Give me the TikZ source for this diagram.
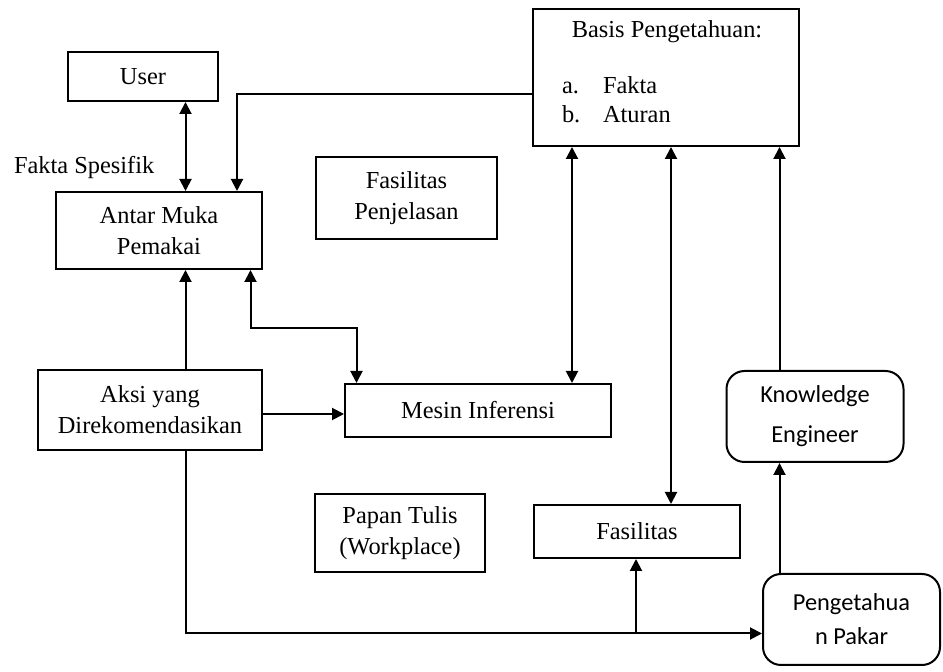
\documentclass[tikz,border=0pt]{standalone}
\usepackage{fontspec}
\setmainfont{Liberation Serif}
\newfontfamily\carlito{Carlito}
\usetikzlibrary{arrows.meta}
\begin{document}
\begin{tikzpicture}[x=0.5pt,y=-0.5pt,
  line width=1pt,
  box/.style={draw,line width=1pt,inner sep=0pt,align=center,
    font=\fontsize{12.2}{15.5}\selectfont},
  rbox/.style={draw,line width=1pt,rounded corners=9pt,inner sep=0pt,align=center,
    font=\carlito\fontsize{12.2}{15}\selectfont},
  txt/.style={inner sep=0pt,font=\fontsize{12.2}{15.5}\selectfont},
  arr/.style={-{Triangle[width=6pt,length=6pt]}},
  darr/.style={{Triangle[width=6pt,length=6pt]}-{Triangle[width=6pt,length=6pt]}}]
\useasboundingbox[fill=white] (0,0) rectangle (943,672);

% boxes
\node[box,minimum width=75pt,minimum height=24.5pt] (user) at (143,76.5) {User};
\node[box,minimum width=103pt,minimum height=38.5pt] (antar) at (159,230.5) {Antar Muka\\Pemakai};
\node[box,minimum width=90.5pt,minimum height=41pt] (penj) at (406.5,198) {Fasilitas\\Penjelasan};
\node[box,minimum width=133pt,minimum height=68.5pt] (basis) at (666,77.5) {};
\node[box,minimum width=112pt,minimum height=40pt] (aksi) at (150,410) {Aksi yang\\Direkomendasikan};
\node[box,minimum width=133pt,minimum height=26.5pt] (mesin) at (478,410.5) {Mesin Inferensi};
\node[box,minimum width=85pt,minimum height=39pt] (papan) at (400,533.5) {Papan Tulis\\(Workplace)};
\node[box,minimum width=103pt,minimum height=26.5pt] (fas) at (637,531.5) {Fasilitas};
\node[rbox,minimum width=88.5pt,minimum height=45.5pt] (ke) at (815,416.5) {Knowledge\\[5pt]Engineer};
\node[rbox,minimum width=88.5pt,minimum height=45.5pt] (pakar) at (851.5,619.5) {Pengetahua\\[2pt]n Pakar};

% texts inside Basis Pengetahuan
\node[txt] (btitle) at (667,32) {Basis Pengetahuan:};
\node[txt,anchor=base west] (ba) at (561,94) {a.};
\node[txt,anchor=base west] (bfakta) at (602,94) {Fakta};
\node[txt,anchor=base west] (bb) at (561,123) {b.};
\node[txt,anchor=base west] (baturan) at (602,123) {Aturan};

\node[txt,anchor=base west] (fakta) at (13,174) {Fakta Spesifik};

% helper coordinates
\coordinate (c185) at (185.5,0);
\coordinate (c237) at (237,94);
\coordinate (t1) at (250.5,328);
\coordinate (t2) at (356.5,328);
\coordinate (c572) at (572,0);
\coordinate (c671) at (671,0);
\coordinate (c779) at (779.5,0);
\coordinate (y414) at (0,414);
\coordinate (y633) at (0,633.5);
\coordinate (j636) at (636,633.5);

% connectors
\draw[darr] (user.south -| c185) -- (antar.north -| c185);
\draw[arr] (basis.west |- c237) -- (c237) -- (antar.north -| c237);
\draw[arr] (aksi.north -| c185) -- (antar.south -| c185);
\draw[darr] (antar.south -| t1) -- (t1) -- (t2) -- (mesin.north -| t2);
\draw[darr] (basis.south -| c572) -- (mesin.north -| c572);
\draw[darr] (basis.south -| c671) -- (fas.north -| c671);
\draw[arr] (ke.north -| c779) -- (basis.south -| c779);
\draw[arr] (aksi.east |- y414) -- (mesin.west |- y414);
\draw[arr] (aksi.south -| c185) |- (pakar.west |- y633);
\draw[arr] (j636) -- (fas.south -| j636);
\draw[arr] (pakar.north -| c779) -- (ke.south -| c779);
\end{tikzpicture}
\end{document}
